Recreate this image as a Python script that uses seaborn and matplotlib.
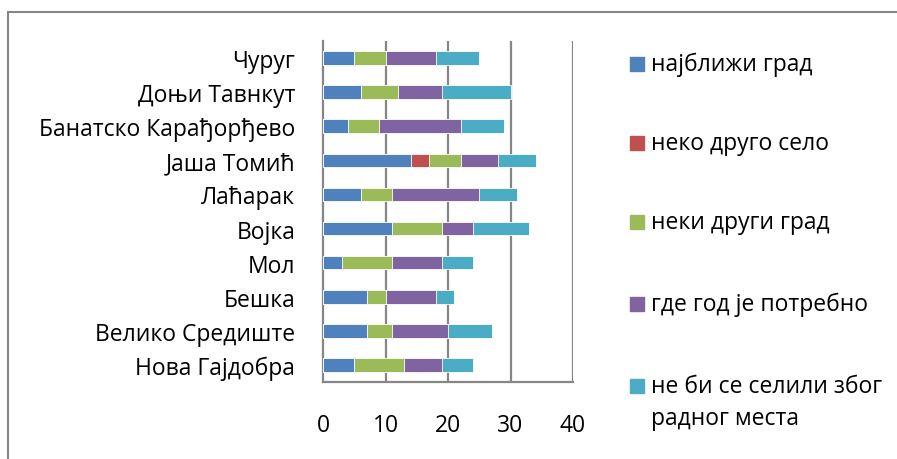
import numpy as np
import pandas as pd
import matplotlib
matplotlib.use("Agg")
import matplotlib.pyplot as plt
from matplotlib.patches import Rectangle
import seaborn as sns

places = ["Чуруг", "Доњи Тавнкут", "Банатско Карађорђево", "Јаша Томић", "Лаћарак",
          "Војка", "Мол", "Бешка", "Велико Средиште", "Нова Гајдобра"]
series = ["најближи град", "неко друго село", "неки други град",
          "где год је потребно", "не би се селили због радног места"]
legend_labels = ["најближи град", "неко друго село", "неки други град",
                 "где год је потребно", "не би се селили због\nрадног места"]
nearest_city = [5, 6, 4, 14, 6, 11, 3, 7, 7, 5]
other_village = [0, 0, 0, 3, 0, 0, 0, 0, 0, 0]
other_city = [5, 6, 5, 5, 5, 8, 8, 3, 4, 8]
wherever = [8, 7, 13, 6, 14, 5, 8, 8, 9, 6]
wouldnt_move = [7, 11, 7, 6, 6, 9, 5, 3, 7, 5]
colors = ["#4F81BD", "#C0504D", "#9BBB59", "#8064A2", "#4BACC6"]
xticks = [0, 10, 20, 30, 40]

sns.set_style("white")
plt.rcParams['font.family'] = ['Open Sans', 'DejaVu Sans']
FS = 16.5

df = pd.DataFrame({"place": places, series[0]: nearest_city, series[1]: other_village,
                   series[2]: other_city, series[3]: wherever, series[4]: wouldnt_move})
cum = df[series].cumsum(axis=1)

W, H = 897, 460
fig = plt.figure(figsize=(W / 100, H / 100), dpi=100)
ax = fig.add_axes([323 / W, 1 - 383 / H, 250 / W, 341 / H])

for s, c in reversed(list(zip(series, colors))):
    sns.barplot(data=pd.DataFrame({"place": places, "v": cum[s]}), x="v", y="place",
                orient="h", color=c, saturation=1, width=0.4, ax=ax,
                edgecolor="white", linewidth=0.6, zorder=3)

ax.set_xlim(0, 40)
ax.set_ylim(len(places) - 0.5, -0.5)
ax.set_xticks(xticks)
ax.set_xticklabels([str(t) for t in xticks])
ax.set_xlabel("")
ax.set_ylabel("")
ax.grid(False)
for t in xticks[1:]:
    ax.axvline(t, color="#868686", lw=1.6, zorder=1)

for side in ["top", "right"]:
    ax.spines[side].set_visible(False)
for side in ["left", "bottom"]:
    ax.spines[side].set_color("#868686")
    ax.spines[side].set_linewidth(1.6)

ax.tick_params(axis="y", which="major", length=0, pad=20, labelsize=FS, labelcolor="black")
ax.set_yticks(np.arange(-0.5, len(places) + 0.5, 1), minor=True)
ax.tick_params(axis="y", which="minor", length=7, width=1.6, color="#868686", direction="out")
ax.tick_params(axis="x", which="major", length=6, width=1.6, color="#868686",
               direction="out", pad=16, labelsize=FS, labelcolor="black")

# chart border (top and left visible)
fig.add_artist(Rectangle((8 / W, -0.1), 1.2, 1 - 13 / H + 0.1, transform=fig.transFigure,
                         fill=False, edgecolor="#868686", lw=1.5))

# legend
ys = [65, 144, 223, 305, 387]
for lab, c, y in zip(legend_labels, colors, ys):
    fig.add_artist(Rectangle((630 / W, 1 - (y + 7) / H), 14 / W, 14 / H,
                             transform=fig.transFigure, color=c))
    if "\n" in lab:
        fig.text(651 / W, 1 - (y - 12) / H, lab, fontsize=FS, va="top", ha="left",
                 linespacing=1.42, color="black", transform=fig.transFigure)
    else:
        fig.text(651 / W, 1 - y / H, lab, fontsize=FS, va="center", ha="left",
                 color="black", transform=fig.transFigure)

fig.savefig("out.png", dpi=100)
